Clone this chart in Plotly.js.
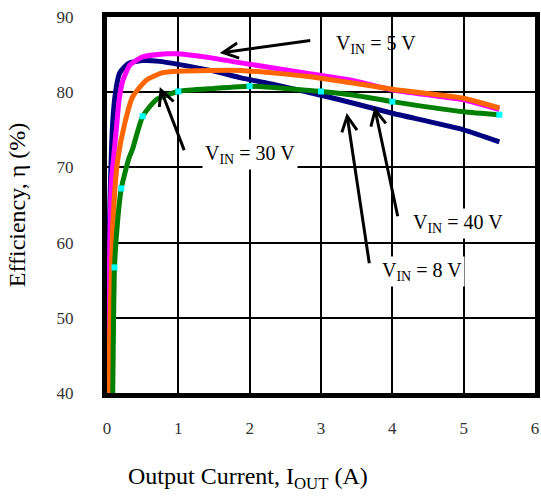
<!DOCTYPE html>
<html>
<head>
<meta charset="utf-8">
<script src="https://cdn.plot.ly/plotly-3.0.1.min.js"></script>
<style>html,body{margin:0;padding:0;background:#fff;}#chart{width:541px;height:501px;}</style>
</head>
<body>
<div id="chart"></div>
<script>
// VIN = 30 V (navy)
const x30 = [0.005, 0.01, 0.02, 0.04, 0.08, 0.12, 0.175, 0.25, 0.32, 0.5, 0.74, 1.0, 1.5, 1.88, 2.35, 3.0, 3.47, 4.0, 5.0, 5.5];
const y30 = [40, 47, 55, 65, 76, 80, 82.5, 83.4, 83.9, 84.2, 84.1, 83.7, 82.8, 81.9, 81.0, 79.6, 78.5, 77.2, 75.0, 73.4];
// VIN = 5 V (magenta)
const x5 = [0.01, 0.015, 0.02, 0.04, 0.06, 0.1, 0.13, 0.17, 0.22, 0.32, 0.5, 0.83, 1.0, 1.5, 1.88, 2.82, 3.47, 4.0, 5.0, 5.5];
const y5 = [40, 44, 48, 60, 68, 72, 75, 79, 81.5, 83.6, 84.7, 85.1, 85.1, 84.5, 83.9, 82.5, 81.5, 80.3, 79.0, 77.7];
// VIN = 40 V (orange)
const x40 = [0.02, 0.03, 0.05, 0.08, 0.11, 0.15, 0.25, 0.36, 0.55, 0.78, 1.0, 1.88, 2.82, 3.47, 4.0, 5.0, 5.5];
const y40 = [40, 45, 52, 62, 67, 71, 75.9, 79.4, 81.6, 82.6, 82.8, 82.9, 82.1, 81.2, 80.4, 79.2, 77.9];
// VIN = 8 V (green)
const x8 = [0.08, 0.09, 0.105, 0.15, 0.2, 0.3, 0.36, 0.5, 0.69, 1.0, 1.5, 2.0, 2.5, 3.0, 3.47, 4.0, 5.0, 5.5];
const y8 = [40, 48, 56.7, 63, 67.2, 71, 72.5, 76.8, 79, 80.1, 80.5, 80.8, 80.5, 80.1, 79.6, 78.75, 77.4, 77.0];
// measured points (cyan markers)
const xMark = [0.105, 0.2, 0.5, 1, 2, 3, 4, 5.5];
const yMark = [56.7, 67.2, 76.8, 80.1, 80.8, 80.1, 78.75, 77.0];

const xTicks = [0, 1, 2, 3, 4, 5, 6];
const yTicks = [40, 50, 60, 70, 80, 90];

const labels = ['V<sub>IN</sub> = 5 V', 'V<sub>IN</sub> = 30 V', 'V<sub>IN</sub> = 40 V', 'V<sub>IN</sub> = 8 V'];
const labelX = [3.77, 2.01, 4.92, 4.41];
const labelY = [86.4, 71.7, 62.5, 56.1];
const labelBg = ['rgba(0,0,0,0)', '#ffffff', '#ffffff', '#ffffff'];
// arrows: tip and tail
const tipX = [1.58, 0.74, 3.75, 3.36];
const tipY = [85.2, 80.7, 78.05, 77.25];
const tailX = [2.87, 1.09, 4.08, 3.68];
const tailY = [86.9, 72.1, 63.3, 57.06];

const serif = 'Liberation Serif, Times New Roman, serif';
const lineStyle = (c) => ({color: c, width: 5, shape: 'spline', smoothing: 0.5});

const traces = [
  {x: x30, y: y30, mode: 'lines', line: lineStyle('#000080')},
  {x: x5, y: y5, mode: 'lines', line: lineStyle('#ff00ff')},
  {x: x40, y: y40, mode: 'lines', line: lineStyle('#ff6600')},
  {x: x8, y: y8, mode: 'lines', line: lineStyle('#008000')},
  {x: xMark, y: yMark, mode: 'markers', marker: {symbol: 'square', color: '#00ffff', size: 6}}
];

const annotations = [];
for (let i = 0; i < labels.length; i++) {
  annotations.push({
    x: labelX[i], y: labelY[i], xref: 'x', yref: 'y', text: labels[i], showarrow: false,
    font: {family: serif, size: 20, color: '#000'}, bgcolor: labelBg[i], borderpad: 2
  });
  annotations.push({
    x: tipX[i], y: tipY[i], ax: tailX[i], ay: tailY[i], xref: 'x', yref: 'y', axref: 'x', ayref: 'y',
    text: '', showarrow: true, arrowhead: 5, arrowsize: 1, arrowwidth: 3, arrowcolor: '#000', standoff: 0, startstandoff: 0
  });
}
// x-axis title (offset left of centre, as in the original)
annotations.push({
  x: 0.33, y: -0.225, xref: 'paper', yref: 'paper', xanchor: 'center', yanchor: 'middle',
  text: 'Output Current, I<sub>OUT</sub> (A)', showarrow: false,
  font: {family: serif, size: 24, color: '#000'}
});

const layout = {
  width: 541, height: 501,
  margin: {l: 107, r: 6, t: 17, b: 108, pad: 0},
  paper_bgcolor: '#fff', plot_bgcolor: '#fff',
  showlegend: false,
  font: {family: serif, color: '#000'},
  xaxis: {
    range: [0, 6], tickvals: xTicks, ticktext: xTicks.map(String),
    showgrid: true, gridcolor: '#000', gridwidth: 2, zeroline: false,
    showline: true, linecolor: '#000', linewidth: 5, mirror: true,
    ticks: '', ticklabelstandoff: 16,
    tickfont: {family: serif, size: 17, color: '#333'}
  },
  yaxis: {
    range: [40, 90], tickvals: yTicks, ticktext: yTicks.map(String),
    showgrid: true, gridcolor: '#000', gridwidth: 2, zeroline: false,
    showline: true, linecolor: '#000', linewidth: 5, mirror: true,
    ticks: '', ticklabelstandoff: 25,
    tickfont: {family: serif, size: 17, color: '#333'},
    title: {text: 'Efficiency, η (%)', font: {family: serif, size: 24, color: '#000'}, standoff: 26}
  },
  annotations: annotations
};

Plotly.newPlot('chart', traces, layout, {displayModeBar: false, staticPlot: true});
</script>
</body>
</html>
